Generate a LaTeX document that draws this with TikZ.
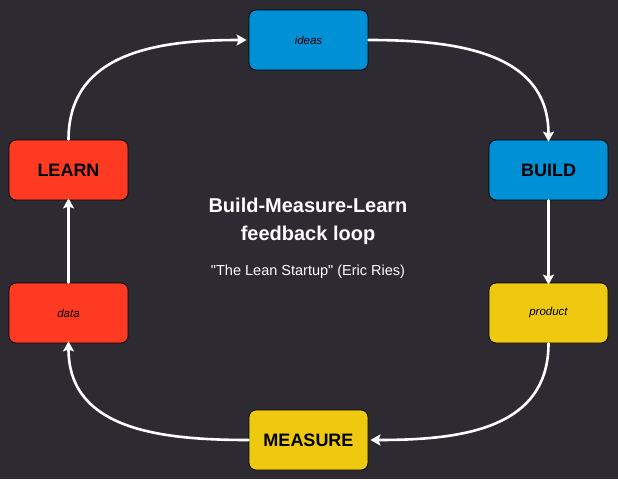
\documentclass[tikz,border=0pt]{standalone}
\usepackage{fontspec}
\setmainfont{Liberation Sans}
\usetikzlibrary{arrows.meta}
\definecolor{bg}{HTML}{2D2A32}
\definecolor{cblue}{HTML}{0090D6}
\definecolor{cred}{HTML}{FF3A22}
\definecolor{cyellow}{HTML}{EEC910}
\tikzset{
  box/.style={draw=black, line width=0.8pt, rounded corners=7pt,
    minimum width=119pt, minimum height=60pt, inner sep=0pt, text=black},
  bigtxt/.style={font=\fontsize{18}{21}\selectfont\bfseries, text height=13pt, text depth=0pt},
  smalltxt/.style={font=\fontsize{11.5}{13}\selectfont\itshape},
  flow/.style={draw=white, line width=2.6pt, line cap=round,
    -{Stealth[length=10pt,width=11pt,inset=2pt]}},
}
\begin{document}
\begin{tikzpicture}[x=1pt,y=-1pt]
  \fill[bg] (0,0) rectangle (618,479);
  \useasboundingbox (0,0) rectangle (618,479);

  \node[box, fill=cblue, smalltxt] (ideas) at (308.5,40) {ideas};
  \node[box, fill=cblue, bigtxt] (build) at (548.5,170) {BUILD};
  \node[box, fill=cyellow, smalltxt] (product) at (548.5,313) {product};
  \node[box, fill=cyellow, bigtxt] (measure) at (308.5,440) {MEASURE};
  \node[box, fill=cred, smalltxt] (data) at (68.5,313) {data};
  \node[box, fill=cred, bigtxt] (learn) at (68.5,170) {LEARN};

  \node[text=white, align=center, font=\fontsize{20}{28}\selectfont\bfseries] (title) at (308,221)
    {Build-Measure-Learn\\feedback loop};
  \node[text=white, font=\fontsize{14.5}{16}\selectfont] (src) at (308,272)
    {\textquotedbl The Lean Startup\textquotedbl{} (Eric Ries)};

  \draw[flow] (ideas.east) to[out=0, in=90, looseness=1.1] ([yshift=-2pt]build.north);
  \draw[flow] (build.south) -- ([yshift=-2pt]product.north);
  \draw[flow] (product.south) to[out=270, in=0, looseness=1.1] ([xshift=2pt]measure.east);
  \draw[flow] (measure.west) to[out=180, in=270, looseness=1.1] ([yshift=2pt]data.south);
  \draw[flow] (data.north) -- ([yshift=2pt]learn.south);
  \draw[flow] (learn.north) to[out=90, in=180, looseness=1.1] ([xshift=-2pt]ideas.west);
\end{tikzpicture}
\end{document}
